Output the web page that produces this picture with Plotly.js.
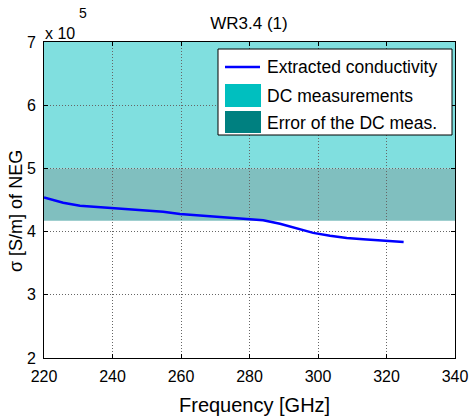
<!DOCTYPE html>
<html><head><meta charset="utf-8">
<script src="https://cdn.plot.ly/plotly-3.0.1.min.js"></script>
<style>html,body{margin:0;padding:0;background:#fff}#chart{width:470px;height:419px}</style>
</head><body><div id="chart"></div>
<script>
// Frequency in GHz, conductivity in units of 1e5 S/m
var freqGHz = [220, 225.6, 230.5, 240.2, 245.1, 254.8, 259.7, 269.4, 279.2, 284.0, 288.9, 293.8, 298.6, 303.5, 308.4, 313.2, 318.1, 325];
var sigmaE5 = [4.54, 4.457, 4.41, 4.37, 4.36, 4.315, 4.28, 4.24, 4.21, 4.18, 4.125, 4.05, 3.98, 3.935, 3.90, 3.88, 3.86, 3.835];
var dcRange = [5.0, 7.0];
var dcErrRange = [4.17, 5.0];
var xTicks = [220, 240, 260, 280, 300, 320, 340];
var yTicks = [2, 3, 4, 5, 6, 7];
var legendLabels = ["Extracted conductivity", "DC measurements", "Error of the DC meas."];
var chartTitle = "WR3.4 (1)";
var xTitle = "Frequency [GHz]";
var yTitle = "σ [S/m] of NEG";

var W = 470, H = 419;
var L = 44, R = 455, T = 42, B = 358;
function px(x){ return (x - L) / (R - L); }
function py(y){ return (B - y) / (B - T); }

var font = "Liberation Sans, Arial, sans-serif";

var shapes = [
  {type:'rect', xref:'paper', yref:'y', x0:0, x1:1, y0:dcRange[0], y1:dcRange[1], fillcolor:'#80DFDF', line:{width:0}, layer:'below'},
  {type:'rect', xref:'paper', yref:'y', x0:0, x1:1, y0:dcErrRange[0], y1:dcErrRange[1], fillcolor:'#80BFBF', line:{width:0}, layer:'below'},
  // legend box
  {type:'rect', xref:'paper', yref:'paper', x0:px(218), x1:px(452), y0:py(135), y1:py(49), fillcolor:'#ffffff', line:{color:'#000', width:1}, layer:'above'},
  {type:'line', xref:'paper', yref:'paper', x0:px(225), x1:px(260), y0:py(67), y1:py(67), line:{color:'#0000FF', width:2.5}, layer:'above'},
  {type:'rect', xref:'paper', yref:'paper', x0:px(225), x1:px(261), y0:py(107), y1:py(84), fillcolor:'#00BFBF', line:{width:0}, layer:'above'},
  {type:'rect', xref:'paper', yref:'paper', x0:px(225), x1:px(261), y0:py(133), y1:py(111), fillcolor:'#008080', line:{width:0}, layer:'above'}
];

function ann(x, y, text, size, opts){
  return Object.assign({xref:'paper', yref:'paper', x:px(x), y:py(y), text:text, showarrow:false,
    xanchor:'left', yanchor:'middle', font:{family:font, size:size, color:'#000'}}, opts||{});
}

var annotations = [
  ann(265, 67, legendLabels[0], 17.5),
  ann(265, 96, legendLabels[1], 17.5),
  ann(265, 123, legendLabels[2], 17.5),
  ann(43, 33, 'x 10', 16),
  ann(77, 13, '5', 14),
  ann(254, 405, xTitle, 20, {xanchor:'center'}),
  ann(16, 211, yTitle, 18, {xanchor:'center', textangle:-90})
];

var data = [{
  x: freqGHz, y: sigmaE5, type:'scatter', mode:'lines',
  line:{color:'#0000FF', width:2.5}, showlegend:false, hoverinfo:'skip'
}];

var axisCommon = {
  showline:true, mirror:'ticks', linecolor:'#000', linewidth:1,
  ticks:'inside', ticklen:4, tickcolor:'#000',
  showgrid:true, gridcolor:'#666', griddash:'1px,2px', gridwidth:1,
  zeroline:false, tickfont:{family:font, size:16, color:'#000'}
};

var layout = {
  width:W, height:H,
  margin:{l:L, r:W-R, t:T, b:H-B},
  paper_bgcolor:'#fff', plot_bgcolor:'rgba(0,0,0,0)',
  showlegend:false,
  title:{text:chartTitle, font:{family:font, size:17, color:'#000'}, x:249/W, xanchor:'center', y:1-23/H, yanchor:'middle'},
  xaxis: Object.assign({}, axisCommon, {range:[220,340], tickvals:xTicks, ticktext:xTicks.map(String), ticklabelstandoff:4}),
  yaxis: Object.assign({}, axisCommon, {range:[2,7], tickvals:yTicks, ticktext:yTicks.map(String), ticklabelshift:0, ticklabelstandoff:4}),
  shapes: shapes,
  annotations: annotations
};

Plotly.newPlot('chart', data, layout, {displayModeBar:false, staticPlot:true});
</script></body></html>
